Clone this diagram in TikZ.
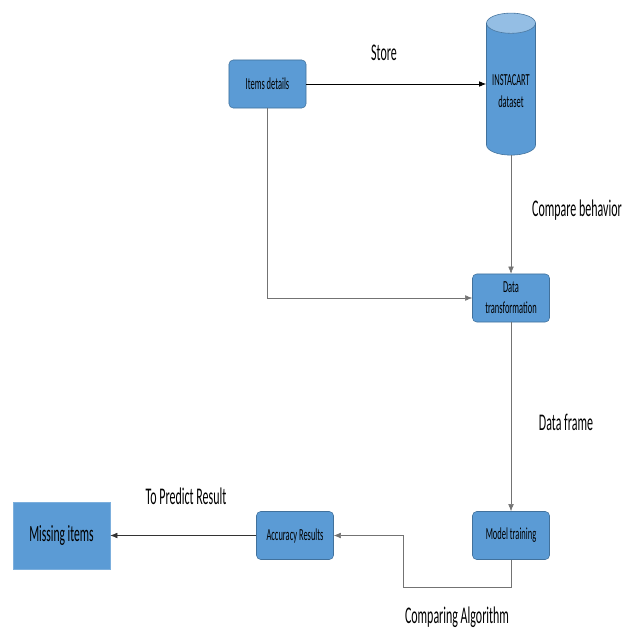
\documentclass[tikz,border=0pt]{standalone}
\usepackage{fontspec}
\setmainfont{Carlito}[FakeStretch=0.5]
\usetikzlibrary{arrows.meta,shapes.geometric}
\definecolor{boxblue}{HTML}{5B9BD5}
\definecolor{boxedge}{HTML}{41719C}
\begin{document}
\begin{tikzpicture}[x=0.025cm, y=-0.025cm,
    block/.style={draw=boxedge, fill=boxblue, rounded corners=3pt, minimum width=1.925cm, minimum height=1.2cm, align=center, font=\fontsize{12}{15}\selectfont, inner sep=1pt},
    lbl/.style={font=\fontsize{17}{20}\selectfont},
    link/.style={draw=black!55, thin, -{Latex[length=5pt,width=4pt]}}]
    \useasboundingbox (0,0) rectangle (630,630);
    % Boxes
    \node[block] (items) at (267.5, 84) {Items details};
    \node[draw=boxedge, cylinder, shape border rotate=90, aspect=0.5, cylinder uses custom fill, cylinder body fill=boxblue, cylinder end fill=boxblue!65!white, minimum width=1.225cm, minimum height=3.55cm, align=center, font=\fontsize{12}{16}\selectfont, inner sep=1pt] (insta) at (511, 91) {INSTACART\\dataset};
    \node[block] (trans) at (511, 298) {Data\\transformation};
    \node[block] (model) at (511, 535.5) {Model training};
    \node[block] (acc) at (295, 535.5) {Accuracy Results};
    \node[draw=boxblue!80!white, fill=boxblue, minimum width=2.425cm, minimum height=1.675cm, font=\fontsize{16.5}{19}\selectfont] (miss) at (61.5, 535.5) {Missing items};
    % Labels
    \node[lbl] (store) at (384, 53) {Store};
    \node[lbl] (cmpbeh) at (577, 210) {Compare behavior};
    \node[lbl] (frame) at (566, 422) {Data frame};
    \node[lbl] (predict) at (186, 496) {To Predict Result};
    \node[lbl] (cmpalg) at (457, 617) {Comparing Algorithm};
    % Arrows
    \coordinate (bend) at (403, 587);
    \draw[-{Latex[length=5pt,width=4pt]}, semithick] (items) -- (insta.west |- items);
    \draw[link] (insta) -- (trans);
    \draw[link] (items.south) |- (trans.west);
    \draw[link] (trans) -- (model);
    \draw[link] (model.south) |- (bend) |- (acc.east);
    \draw[link, draw=black!80] (acc) -- (miss);
\end{tikzpicture}
\end{document}
